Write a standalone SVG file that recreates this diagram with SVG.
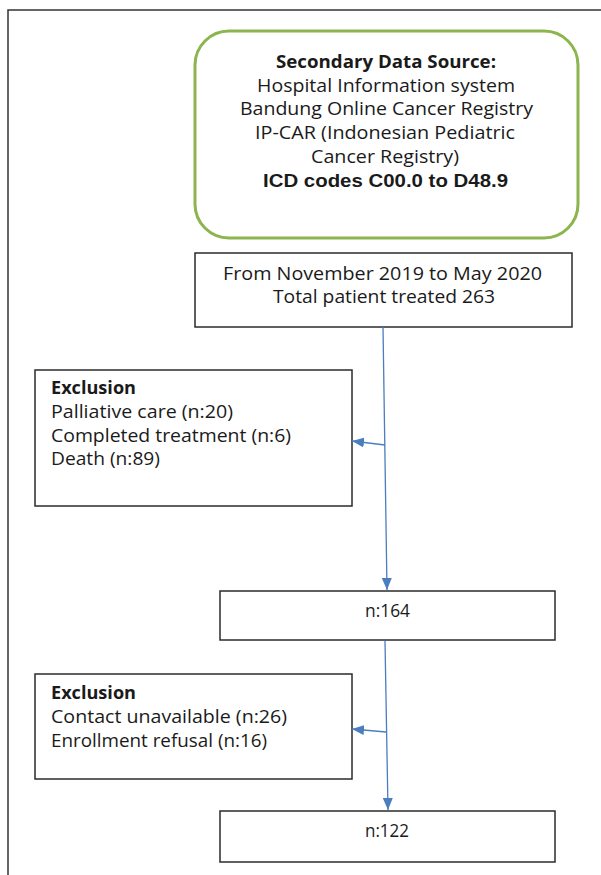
<svg xmlns="http://www.w3.org/2000/svg" width="601" height="875" viewBox="0 0 601 875">
<style>
.box{fill:#fff;stroke:#2b2b2b;stroke-width:1.5}
.t{font-family:"Open Sans","Liberation Sans",sans-serif;font-size:18.5px;fill:#1a1a1a}
.n{font-family:"Open Sans","Liberation Sans",sans-serif;font-size:17.5px;fill:#1a1a1a}
.h{font-family:"Open Sans",Lato,sans-serif;font-size:18.5px;fill:#1a1a1a}
.a{font-family:"Liberation Sans",Arial,sans-serif;font-size:17.5px;fill:#1a1a1a}
.b{font-weight:bold}
.c{text-anchor:middle}
.ln{stroke:#4a7ebf;stroke-width:1.3;fill:none;marker-end:url(#ah)}
</style>
<defs>
<marker id="ah" viewBox="0 0 12 10" refX="12" refY="5" markerWidth="12" markerHeight="10" markerUnits="userSpaceOnUse" orient="auto">
<path d="M0,0 L12,5 L0,10 z" fill="#4a7ebf"/>
</marker>
</defs>
<rect width="601" height="875" fill="#fff"/>
<path d="M8,876 V10 H602" fill="none" stroke="#333" stroke-width="1.5"/>
<g id="source">
<rect x="195" y="31" width="383" height="207" rx="34" ry="34" fill="#fff" stroke="#8cb54f" stroke-width="3"/>
<text class="h c b" x="386" y="68" textLength="220" lengthAdjust="spacingAndGlyphs">Secondary Data Source:</text>
<text class="h c" x="386" y="92" textLength="258" lengthAdjust="spacingAndGlyphs">Hospital Information system</text>
<text class="h c" x="386.5" y="115" textLength="293" lengthAdjust="spacingAndGlyphs">Bandung Online Cancer Registry</text>
<text class="h c" x="385" y="139" textLength="260" lengthAdjust="spacingAndGlyphs">IP-CAR (Indonesian Pediatric</text>
<text class="h c" x="385" y="163" textLength="148" lengthAdjust="spacingAndGlyphs">Cancer Registry)</text>
<text class="a c b" x="385.5" y="187" textLength="245" lengthAdjust="spacingAndGlyphs">ICD codes C00.0 to D48.9</text>
</g>
<g id="total">
<rect class="box" x="195" y="253" width="377" height="74"/>
<text class="h c" x="382.5" y="280" textLength="319" lengthAdjust="spacingAndGlyphs">From November 2019 to May 2020</text>
<text class="h c" x="384" y="303" textLength="222" lengthAdjust="spacingAndGlyphs">Total patient treated 263</text>
</g>
<g id="excl1">
<rect class="box" x="35" y="370" width="317" height="136"/>
<text class="t b" x="51" y="394" textLength="85" lengthAdjust="spacingAndGlyphs">Exclusion</text>
<text class="t" x="51" y="418" textLength="182" lengthAdjust="spacingAndGlyphs">Palliative care (n:20)</text>
<text class="t" x="51" y="442" textLength="240" lengthAdjust="spacingAndGlyphs">Completed treatment (n:6)</text>
<text class="t" x="51" y="465" textLength="109" lengthAdjust="spacingAndGlyphs">Death (n:89)</text>
</g>
<g id="n164">
<rect class="box" x="220" y="591" width="335" height="49"/>
<text class="n c" x="387.5" y="617" textLength="45" lengthAdjust="spacingAndGlyphs">n:164</text>
</g>
<g id="excl2">
<rect class="box" x="35" y="674" width="317" height="105"/>
<text class="t b" x="51" y="699" textLength="85" lengthAdjust="spacingAndGlyphs">Exclusion</text>
<text class="t" x="51" y="723" textLength="236" lengthAdjust="spacingAndGlyphs">Contact unavailable (n:26)</text>
<text class="t" x="51" y="747" textLength="216" lengthAdjust="spacingAndGlyphs">Enrollment refusal (n:16)</text>
</g>
<g id="n122">
<rect class="box" x="220" y="811" width="335" height="51"/>
<text class="n c" x="387" y="837" textLength="44" lengthAdjust="spacingAndGlyphs">n:122</text>
</g>
<g id="connectors">
<path class="ln" d="M383,327 L387,590"/>
<path class="ln" d="M385,445 L352,441"/>
<path class="ln" d="M385,641 L388,810"/>
<path class="ln" d="M386,732 L352,729"/>
</g>
</svg>
